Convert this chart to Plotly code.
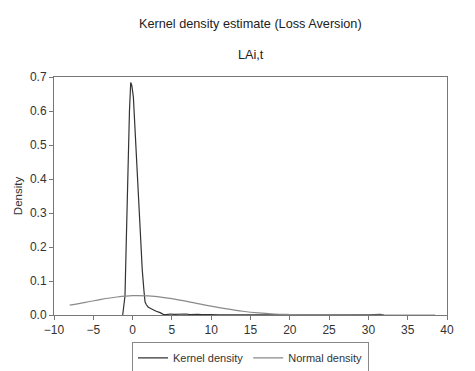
import plotly.graph_objects as go

# Kernel density estimate
kernel_x = [-1.26, -1.1, -0.97, -0.8, -0.6, -0.4, -0.24, -0.1, 0.1, 0.4, 0.7, 1.0, 1.23, 1.45, 1.58,
            1.75, 2.0, 2.3, 2.63, 3.0, 3.5, 3.9, 4.3, 4.8, 5.3, 5.8, 6.3, 6.8, 7.3, 7.8, 8.3, 8.8,
            9.3, 9.9, 11, 13, 15, 18, 21, 24, 27, 30, 31.5, 32]
kernel_y = [0.0, 0.03, 0.056, 0.22, 0.42, 0.60, 0.684, 0.675, 0.64, 0.50, 0.36, 0.22, 0.132, 0.07, 0.039,
            0.030, 0.023, 0.019, 0.015, 0.011, 0.007, 0.002, 0.001, 0.003, 0.002, 0.003, 0.002, 0.003, 0.001, 0.002, 0.002, 0.001,
            0.002, 0.001, 0.0005, 0.0004, 0.0003, 0.0002, 0.0002, 0.0001, 0.0001, 0.0001, 0.002, 0.0]

# Normal density
normal_x = [-8, -6, -4, -2, 0, 2, 4, 6, 8, 10, 12, 14, 16, 18, 20, 22, 24, 26, 30, 34, 38.5]
normal_y = [0.029, 0.037, 0.046, 0.053, 0.057, 0.056, 0.051, 0.044, 0.035, 0.026, 0.018, 0.011, 0.006,
            0.003, 0.0015, 0.0006, 0.0002, 0.0001, 0.0, 0.0, 0.0]

x_ticks = [-10, -5, 0, 5, 10, 15, 20, 25, 30, 35, 40]
y_ticks = [0.0, 0.1, 0.2, 0.3, 0.4, 0.5, 0.6, 0.7]

title_text = "Kernel density estimate (Loss Aversion)"
subtitle_text = "LAi,t"

fig = go.Figure()
fig.add_trace(go.Scatter(x=kernel_x, y=kernel_y, mode="lines", name="Kernel density",
                         line=dict(color="#333333", width=1.2)))
fig.add_trace(go.Scatter(x=normal_x, y=normal_y, mode="lines", name="Normal density",
                         line=dict(color="#8a8a8a", width=1.2, shape="spline")))

font_family = "Liberation Sans, Arial, sans-serif"

# page body adds an 8px offset; figure sized to fill the rest of the window
fig.update_layout(
    width=467, height=363,
    margin=dict(l=46, r=28, t=69, b=56, autoexpand=False),
    paper_bgcolor="white", plot_bgcolor="white",
    font=dict(family=font_family, size=12, color="#333333"),
    showlegend=True,
    legend=dict(orientation="h", x=0.5, xanchor="center", y=-0.115, yanchor="top",
                bordercolor="#888888", borderwidth=1, font=dict(size=11, color="#333333"),
                itemwidth=30, tracegroupgap=0),
    annotations=[
        dict(text=title_text, xref="paper", yref="paper", x=0.5, y=1.222, xanchor="center",
             yanchor="middle", showarrow=False, font=dict(size=12.7, color="#222222")),
        dict(text=subtitle_text, xref="paper", yref="paper", x=0.5, y=1.092, xanchor="center",
             yanchor="middle", showarrow=False, font=dict(size=12.7, color="#222222")),
    ],
)
fig.update_xaxes(range=[-10, 40], tickvals=x_ticks, showgrid=False, zeroline=False,
                 showline=True, linecolor="#777777", linewidth=1, mirror=True, automargin=False,
                 ticks="outside", ticklen=4, tickcolor="#777777", tickfont=dict(size=12))
fig.update_yaxes(range=[0, 0.7], tickvals=y_ticks, tickformat=".1f", showgrid=False, zeroline=False,
                 showline=True, linecolor="#777777", linewidth=1, mirror=True, automargin=False,
                 ticks="outside", ticklen=4, tickcolor="#777777", tickfont=dict(size=12),
                 title=dict(text="Density", font=dict(size=11.5), standoff=4))

fig.write_html("out.html")
